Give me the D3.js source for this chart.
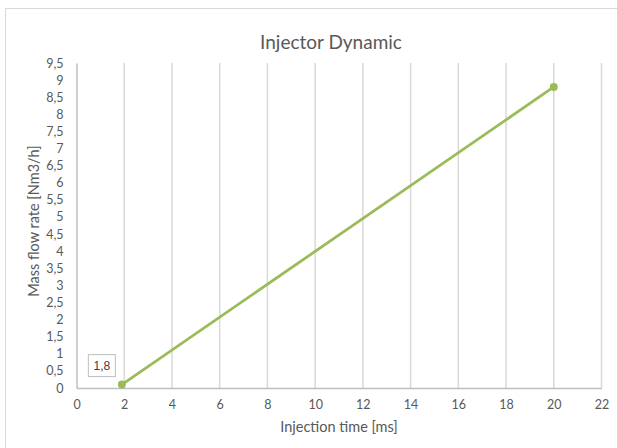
<!DOCTYPE html>
<html>
<head>
<meta charset="utf-8">
<script src="https://cdn.jsdelivr.net/npm/d3@7"></script>
<style>
  body { margin: 0; background: #fff; }
  text { font-family: Lato, "Open Sans", sans-serif; }
</style>
</head>
<body>
<div id="chart"></div>
<script>
// data
var injectionTime = [1.9, 20];
var massFlow = [0.1, 8.8];
var pointLabels = ["1,8", null];
var xTicks = [0, 2, 4, 6, 8, 10, 12, 14, 16, 18, 20, 22];
var yTicks = [0, 0.5, 1, 1.5, 2, 2.5, 3, 3.5, 4, 4.5, 5, 5.5, 6, 6.5, 7, 7.5, 8, 8.5, 9, 9.5];

var width = 617, height = 448;
var plot = {left: 76.5, right: 601.5, top: 63, bottom: 388};
var green = "#9bbb59";
var textGrey = "#595959";

var fmt = function(v) { return String(v).replace(".", ","); };

var svg = d3.select("#chart").append("svg")
    .attr("width", width)
    .attr("height", height);

// chart frame (runs off the right and bottom of the picture)
svg.append("rect")
    .attr("x", 5.5).attr("y", 8.5)
    .attr("width", 700).attr("height", 500)
    .attr("fill", "#fff")
    .attr("stroke", "#d9d9d9");

var x = d3.scaleLinear().domain([0, 22]).range([plot.left, plot.right]);
var y = d3.scaleLinear().domain([0, 9.5]).range([plot.bottom, plot.top]);

// vertical gridlines
svg.append("g")
    .selectAll("line")
    .data(xTicks.slice(1))
    .join("line")
    .attr("x1", d => x(d)).attr("x2", d => x(d))
    .attr("y1", y(9.5)).attr("y2", y(0))
    .attr("stroke", "#d9d9d9")
    .attr("stroke-width", 1.5);

// x axis
var xAxis = svg.append("g")
    .attr("transform", "translate(0," + y(0) + ")")
    .call(d3.axisBottom(x).tickValues(xTicks).tickFormat(fmt).tickSize(0).tickPadding(12));
xAxis.select(".domain").attr("stroke", "#bfbfbf").attr("stroke-width", 1.5);
xAxis.selectAll("text").attr("fill", textGrey).style("font-size", "12.5px")
    .style("font-family", "Lato, 'Open Sans', sans-serif");

// y axis
var yAxis = svg.append("g")
    .attr("transform", "translate(" + x(0) + ",0)")
    .call(d3.axisLeft(y).tickValues(yTicks).tickFormat(fmt).tickSize(0).tickPadding(13));
yAxis.select(".domain").attr("stroke", "#bfbfbf").attr("stroke-width", 1.5);
yAxis.selectAll("text").attr("fill", textGrey).style("font-size", "12.5px")
    .style("font-family", "Lato, 'Open Sans', sans-serif");

// titles
svg.append("text")
    .attr("x", 331).attr("y", 49)
    .attr("text-anchor", "middle")
    .attr("fill", textGrey)
    .style("font-size", "19px")
    .text("Injector Dynamic");

svg.append("text")
    .attr("x", 339).attr("y", 432)
    .attr("text-anchor", "middle")
    .attr("fill", textGrey)
    .style("font-size", "14.5px")
    .text("Injection time [ms]");

svg.append("text")
    .attr("transform", "translate(39,221) rotate(-90)")
    .attr("text-anchor", "middle")
    .attr("fill", textGrey)
    .style("font-size", "14.5px")
    .text("Mass flow rate [Nm3/h]");

// series
var pts = injectionTime.map((t, i) => ({x: t, y: massFlow[i], label: pointLabels[i]}));

svg.append("path")
    .datum(pts)
    .attr("fill", "none")
    .attr("stroke", green)
    .attr("stroke-width", 2.8)
    .attr("d", d3.line().x(d => x(d.x)).y(d => y(d.y)));

svg.append("g")
    .selectAll("circle")
    .data(pts)
    .join("circle")
    .attr("cx", d => x(d.x)).attr("cy", d => y(d.y))
    .attr("r", 4)
    .attr("fill", green);

// data label box
var labels = svg.append("g")
    .selectAll("g")
    .data(pts.filter(d => d.label))
    .join("g")
    .attr("transform", d => "translate(" + (x(d.x) - 20) + "," + (y(d.y) - 18.5) + ")");

labels.append("rect")
    .attr("x", -13.5).attr("y", -11.5)
    .attr("width", 27).attr("height", 22)
    .attr("fill", "#fff")
    .attr("stroke", "#bfbfbf");

labels.append("text")
    .attr("text-anchor", "middle")
    .attr("dy", "0.35em")
    .attr("fill", "#404040")
    .style("font-family", "'Liberation Sans', Arial, sans-serif")
    .style("font-size", "12px")
    .text(d => d.label);
</script>
</body>
</html>
